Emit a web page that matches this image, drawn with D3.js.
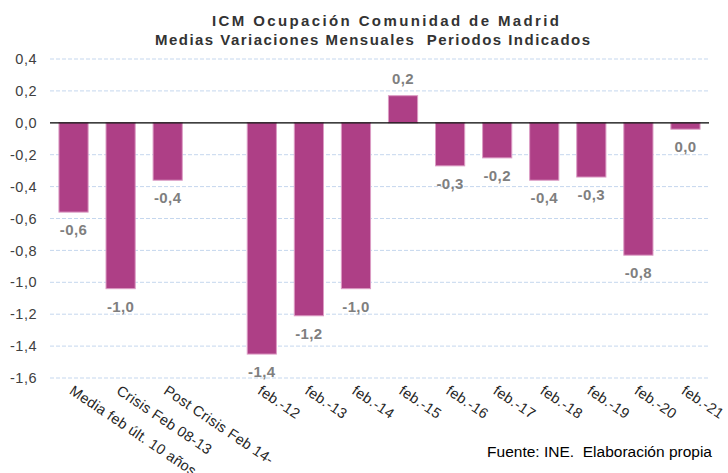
<!DOCTYPE html>
<html>
<head>
<meta charset="utf-8">
<script src="https://cdn.jsdelivr.net/npm/d3@7"></script>
<style>
  body { margin: 0; background: #fff; }
  text { font-family: "Liberation Sans", Arial, sans-serif; }
</style>
</head>
<body>
<svg id="grafico"></svg>
<script>
// ICM Ocupación - variaciones mensuales de febrero

var categorias = ["Media feb últ. 10 años", "Crisis Feb 08-13", "Post Crisis Feb 14-", "",
  "feb.-12", "feb.-13", "feb.-14", "feb.-15", "feb.-16", "feb.-17", "feb.-18", "feb.-19", "feb.-20", "feb.-21"];
var valores = [-0.56, -1.04, -0.36, null,
  -1.45, -1.21, -1.04, 0.17, -0.27, -0.22, -0.36, -0.34, -0.83, -0.04];
var ticksY = [0.4, 0.2, 0, -0.2, -0.4, -0.6, -0.8, -1.0, -1.2, -1.4, -1.6];

var width = 728, height = 473;
var margin = {top: 59, right: 19, bottom: 95, left: 50};

const svg = d3.select("#grafico")
  .attr("width", width)
  .attr("height", height);

const es = d3.formatLocale({decimal: ",", thousands: ".", grouping: [3], currency: ["", "€"], minus: "-"});
const fmt = es.format(".1f");

const x = d3.scaleBand()
  .domain(categorias.map((c, i) => i))
  .range([margin.left, width - margin.right])
  .paddingInner(0.38)
  .paddingOuter(0.19);

const y = d3.scaleLinear()
  .domain([-1.6, 0.4])
  .range([height - margin.bottom, margin.top]);

// titulo
svg.append("text")
  .attr("x", 212).attr("y", 26)
  .attr("font-size", 15).attr("font-weight", "bold")
  .attr("fill", "#333")
  .attr("textLength", 347).attr("lengthAdjust", "spacing")
  .text("ICM Ocupación Comunidad de Madrid");
svg.append("text")
  .attr("x", 155).attr("y", 45)
  .attr("font-size", 15).attr("font-weight", "bold")
  .attr("fill", "#333")
  .attr("textLength", 435).attr("lengthAdjust", "spacing")
  .attr("xml:space", "preserve")
  .style("white-space", "pre")
  .text("Medias Variaciones Mensuales  Periodos Indicados");

// rejilla
svg.append("g")
  .selectAll("line")
  .data(ticksY.filter(t => t !== 0))
  .join("line")
  .attr("x1", margin.left).attr("x2", width - margin.right)
  .attr("y1", d => y(d)).attr("y2", d => y(d))
  .attr("stroke", "#c5d7ee")
  .attr("stroke-dasharray", "4,2");

// eje y
const ejeY = svg.append("g")
  .attr("transform", `translate(${margin.left},0)`)
  .call(d3.axisLeft(y).tickValues(ticksY).tickFormat(fmt).tickSize(0).tickPadding(13));
ejeY.select(".domain").remove();
ejeY.selectAll("text")
  .attr("font-size", 14.5)
  .attr("letter-spacing", 0.5)
  .attr("fill", "#404040")
  .style("font-family", "'Liberation Sans', Arial, sans-serif");

// barras
const datos = categorias.map((c, i) => ({i: i, cat: c, v: valores[i]})).filter(d => d.v !== null);

svg.append("g")
  .selectAll("rect")
  .data(datos)
  .join("rect")
  .attr("x", d => x(d.i))
  .attr("width", x.bandwidth())
  .attr("y", d => y(Math.max(0, d.v)))
  .attr("height", d => Math.abs(y(d.v) - y(0)))
  .attr("fill", "#ae3f86")
  .attr("stroke", "#dc9cc4")
  .attr("stroke-width", 1);

// linea cero
svg.append("line")
  .attr("x1", margin.left).attr("x2", width - margin.right)
  .attr("y1", y(0)).attr("y2", y(0))
  .attr("stroke", "#000").attr("stroke-width", 1.2);

// etiquetas de datos
svg.append("g")
  .selectAll("text")
  .data(datos)
  .join("text")
  .attr("x", d => x(d.i) + x.bandwidth() / 2)
  .attr("y", d => d.v >= 0 ? y(d.v) - 12 : y(d.v) + 23)
  .attr("text-anchor", "middle")
  .attr("font-size", 15).attr("font-weight", "bold")
  .attr("letter-spacing", 0.4)
  .attr("fill", "#7f7f7f")
  .text(d => fmt(d.v));

// etiquetas eje x
svg.append("g")
  .selectAll("text")
  .data(categorias.map((c, i) => ({i: i, cat: c})).filter(d => d.cat !== ""))
  .join("text")
  .attr("transform", d => `translate(${x(d.i) + x.bandwidth() / 2 - 5},${y(-1.6) + 15}) rotate(34)`)
  .attr("font-size", 14.5)
  .attr("letter-spacing", 0.3)
  .attr("fill", "#262626")
  .text(d => d.cat);

// fuente
svg.append("text")
  .attr("x", 712).attr("y", 457)
  .attr("text-anchor", "end")
  .attr("font-size", 15.5)
  .attr("fill", "#000")
  .attr("xml:space", "preserve")
  .style("white-space", "pre")
  .text("Fuente: INE.  Elaboración propia");
</script>
</body>
</html>
